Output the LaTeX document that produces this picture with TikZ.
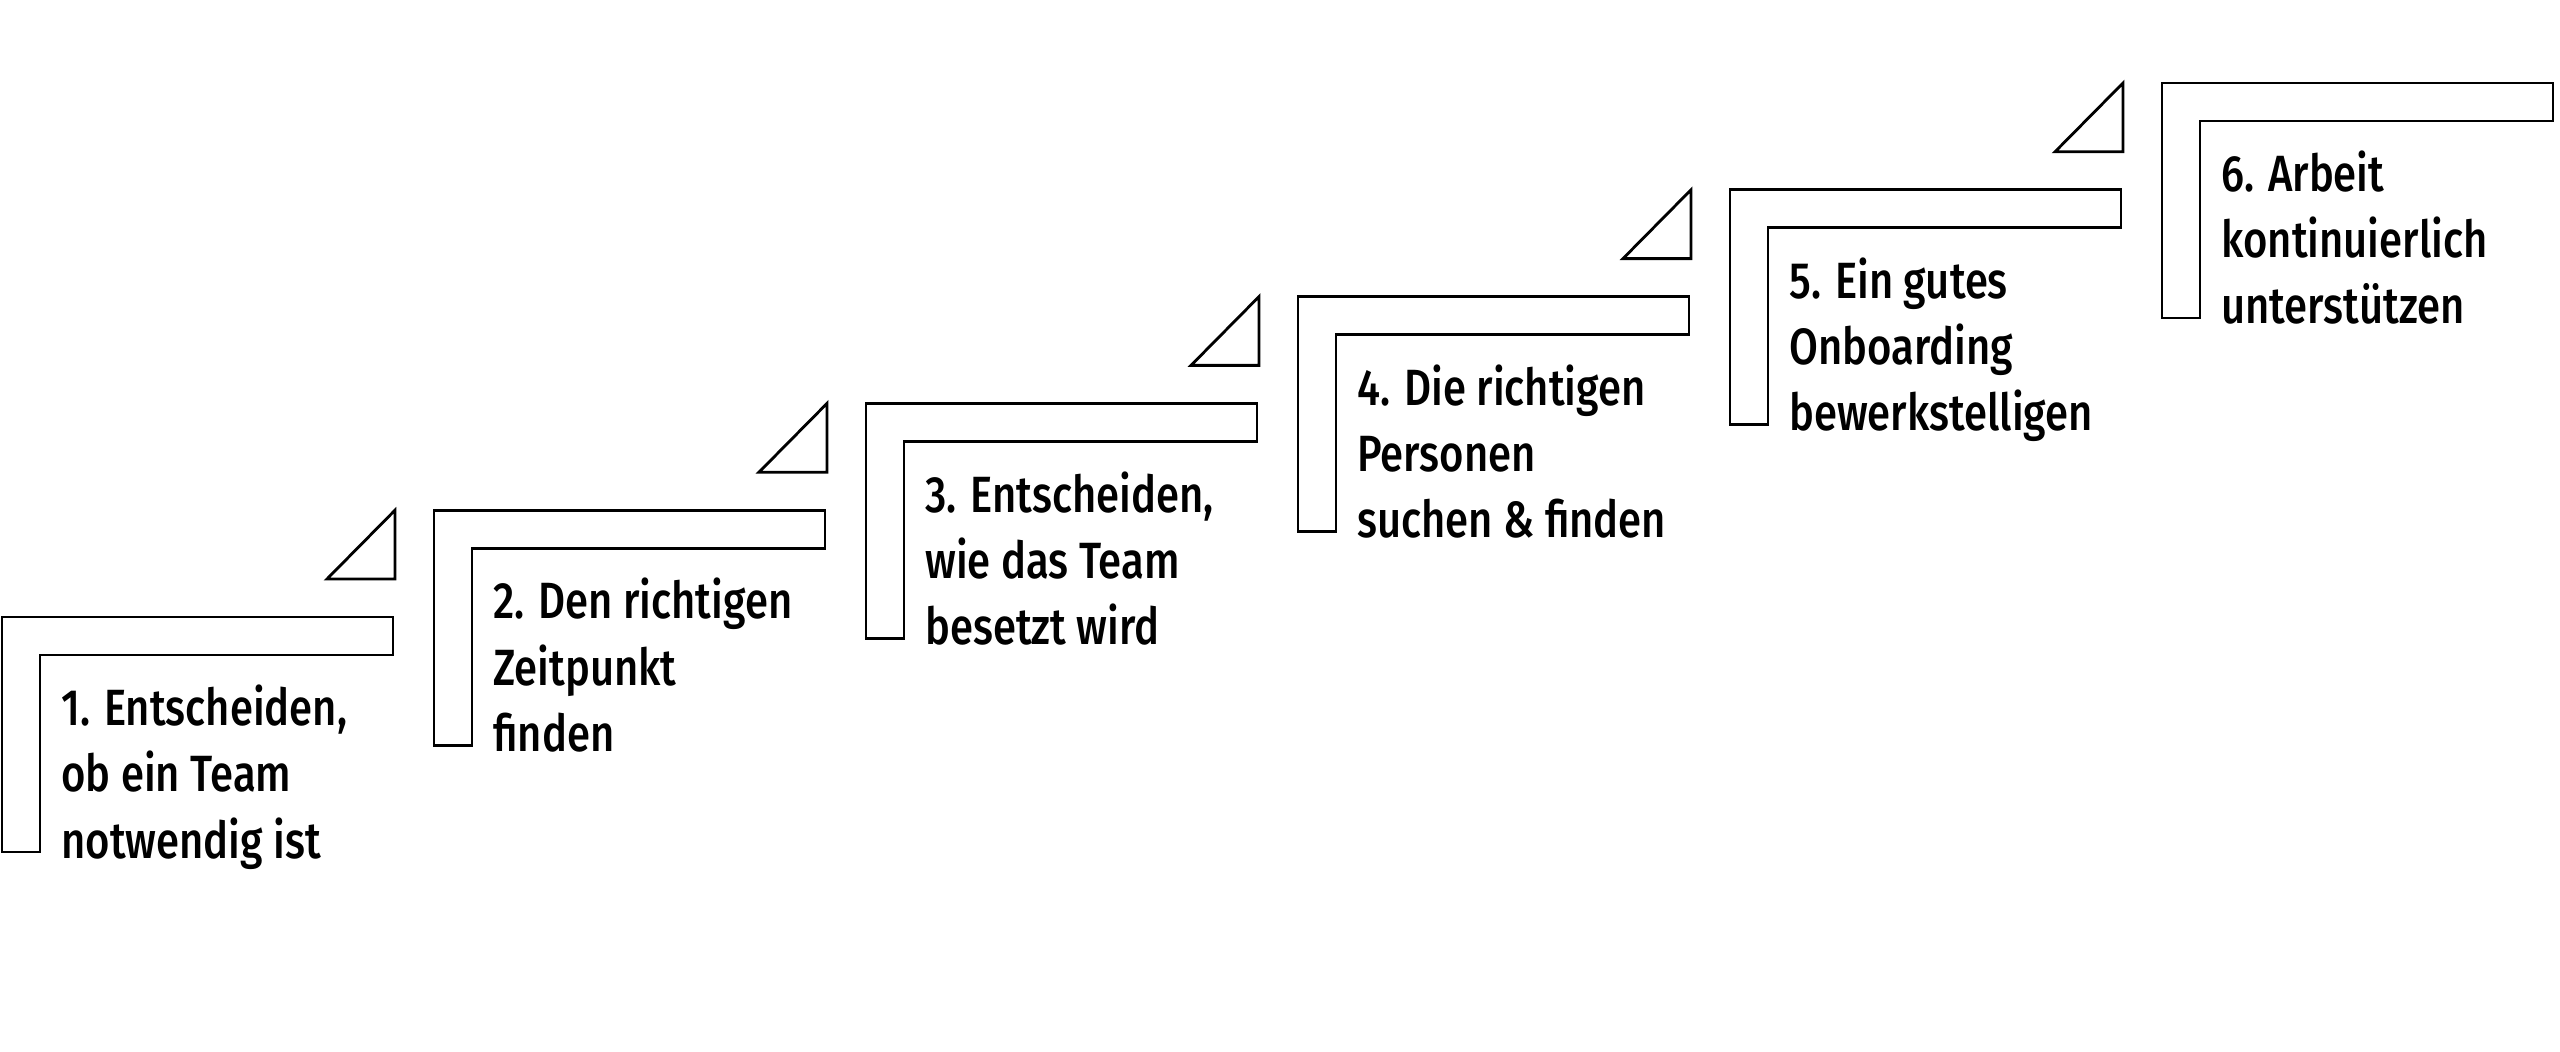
\documentclass[tikz,border=0pt]{standalone}
\usepackage{fontspec}
\setmainfont{Fira Sans}[UprightFont=* Medium,FakeStretch=0.82]
\begin{document}
\begin{tikzpicture}[x=0.01cm,y=-0.01cm,line width=0.8pt]
  \useasboundingbox (0,0) rectangle (2560,1052);
  \tikzset{steptext/.style={anchor=base west,align=left,inner sep=0pt,
      font=\fontsize{14.5}{18.8}\selectfont}}

  % 台阶与文字
  \foreach \i/\t in {1/{1. Entscheiden,\\ob ein Team\\notwendig ist},
                     2/{2. Den richtigen\\Zeitpunkt\\finden},
                     3/{3. Entscheiden,\\wie das Team\\besetzt wird},
                     4/{4. Die richtigen\\Personen\\suchen \& finden},
                     5/{5. Ein gutes\\Onboarding\\bewerkstelligen},
                     6/{6. Arbeit\\kontinuierlich\\unterstützen}}{
    \pgfmathsetmacro{\ox}{2+432*(\i-1)}
    \pgfmathsetmacro{\oy}{617-106.8*(\i-1)}
    \draw (\ox,\oy) -- ++(391,0) -- ++(0,38) -- ++(-353,0)
      -- ++(0,197) -- ++(-38,0) -- cycle;
    \node[steptext] (step\i) at (\ox+58,\oy+241) {\t};
  }

  % 三角形
  \foreach \i in {1,...,5}{
    \pgfmathsetmacro{\ox}{2+432*(\i-1)}
    \pgfmathsetmacro{\oy}{617-106.8*(\i-1)}
    \draw (\ox+393,\oy-106.8) -- (\ox+393,\oy-38) -- (\ox+325,\oy-38) -- cycle;
  }
\end{tikzpicture}
\end{document}
